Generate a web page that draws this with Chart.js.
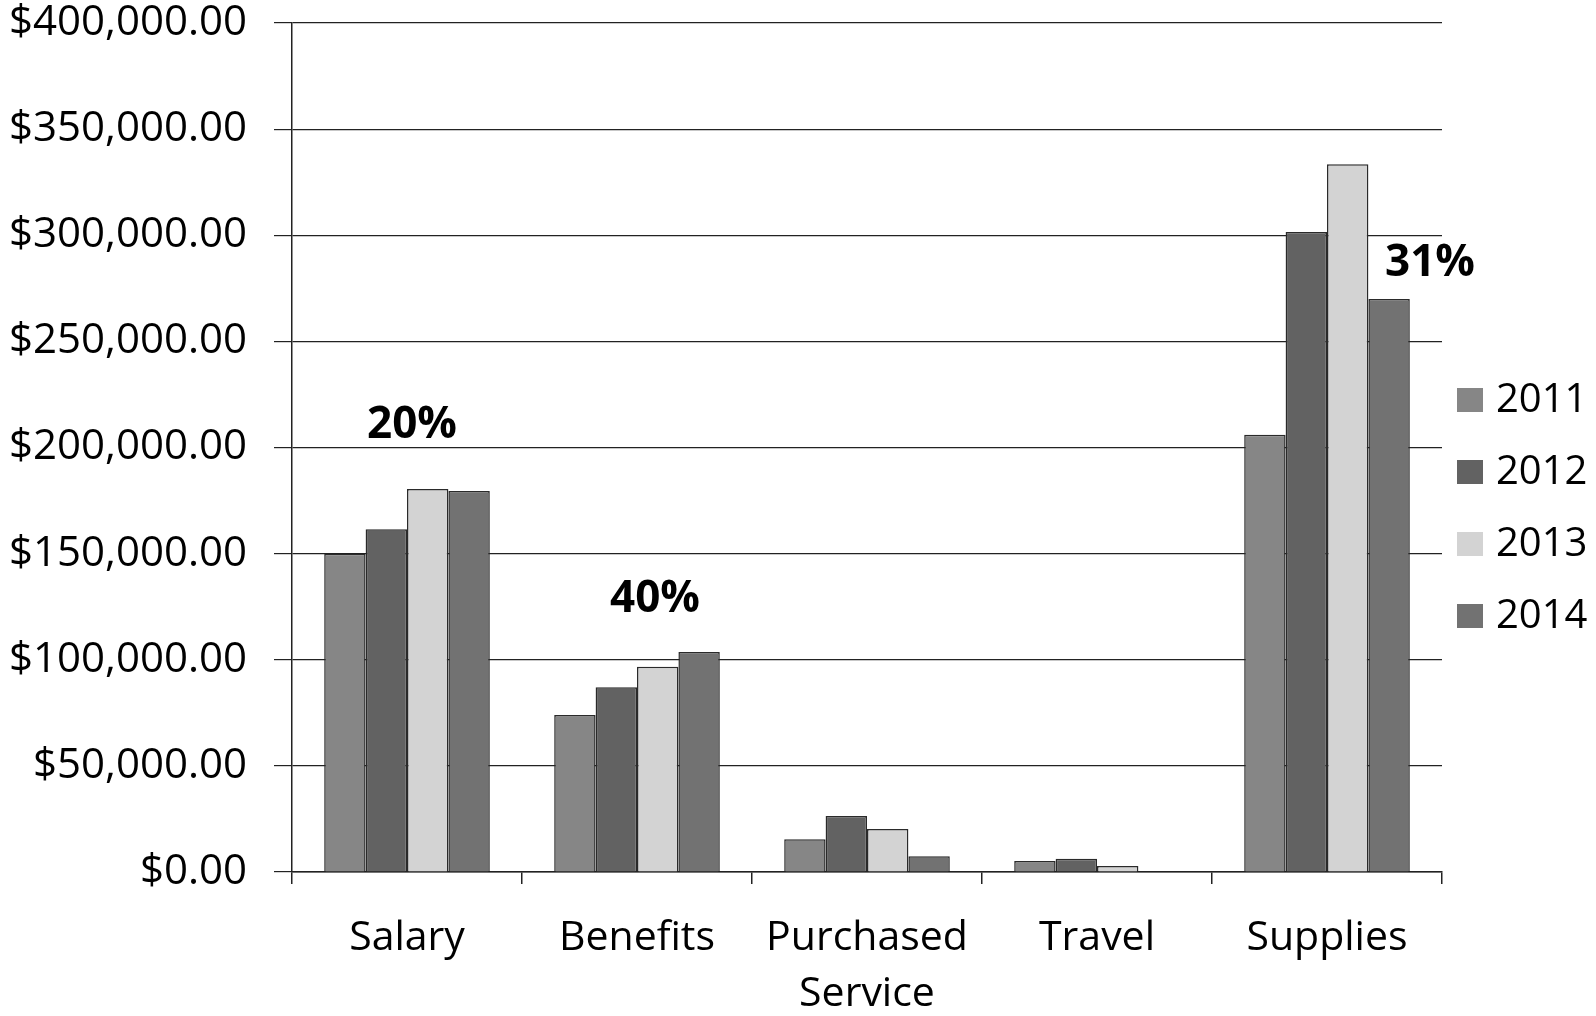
<!DOCTYPE html>
<html>
<head>
<meta charset="utf-8">
<script src="https://cdn.jsdelivr.net/npm/chart.js@4.4.1/dist/chart.umd.min.js"></script>
<style>
html, body { margin: 0; padding: 0; background: #fff; }
#wrap { width: 1596px; height: 1016px; }
</style>
</head>
<body>
<div id="wrap"><canvas id="budgetChart" width="1596" height="1016"></canvas></div>
<script>
// Chart data
var categories = ['Salary', 'Benefits', ['Purchased', 'Service'], 'Travel', 'Supplies'];
var years = ['2011', '2012', '2013', '2014'];
var values2011 = [150000, 74000, 15400, 5200, 206000];
var values2012 = [161500, 87000, 26400, 6300, 301500];
var values2013 = [180500, 96700, 20300, 2800, 333500];
var values2014 = [179500, 103600, 7400, 0, 270000];
var yTicks = [0, 50000, 100000, 150000, 200000, 250000, 300000, 350000, 400000];
var percentLabels = ['20%', '40%', '31%'];

var barColors = ['#868686', '#626262', '#d3d3d3', '#727272'];
var fontFamily = '"Open Sans", "DejaVu Sans", sans-serif';

// where the percent notes sit: category index, height on the y scale, sideways shift
var notes = [
    { text: percentLabels[0], category: 0, value: 210500, dx: 5 },
    { text: percentLabels[1], category: 1, value: 128500, dx: 18 },
    { text: percentLabels[2], category: 4, value: 286500, dx: 103 }
];

var seriesValues = [values2011, values2012, values2013, values2014];
var datasets = years.map(function (y, i) {
    return {
        label: y,
        data: seriesValues[i],
        backgroundColor: barColors[i],
        borderColor: '#2a2a2a',
        borderWidth: 1.5,
        barPercentage: 1,
        categoryPercentage: 0.72
    };
});

function money(v) {
    return '$' + v.toLocaleString('en-US', { minimumFractionDigits: 2, maximumFractionDigits: 2 });
}

// Percent notes drawn over the bars
var notesPlugin = {
    id: 'notes',
    afterDatasetsDraw: function (chart) {
        var ctx = chart.ctx;
        var xs = chart.scales.x, ys = chart.scales.y;
        ctx.save();
        ctx.fillStyle = '#000';
        ctx.font = 'bold 44px ' + fontFamily;
        ctx.textAlign = 'center';
        ctx.textBaseline = 'middle';
        notes.forEach(function (n) {
            ctx.fillText(n.text, xs.getPixelForValue(n.category) + n.dx, ys.getPixelForValue(n.value));
        });
        ctx.restore();
    }
};

// Legend on the right, built from the datasets
var sideLegend = {
    id: 'sideLegend',
    afterDraw: function (chart) {
        var ctx = chart.ctx;
        ctx.save();
        ctx.font = '40px ' + fontFamily;
        ctx.textAlign = 'left';
        ctx.textBaseline = 'middle';
        chart.data.datasets.forEach(function (ds, i) {
            var cy = 400 + i * 72;
            ctx.fillStyle = ds.backgroundColor;
            ctx.fillRect(1457, cy - 12, 26, 24);
            ctx.fillStyle = '#000';
            ctx.fillText(ds.label, 1496, cy + 1);
        });
        ctx.restore();
    }
};

var bc = document.getElementById('budgetChart').getContext('2d');
var budgetChart = new Chart(bc, {
    type: 'bar',
    data: { labels: categories, datasets: datasets },
    plugins: [notesPlugin, sideLegend],
    options: {
        responsive: false,
        animation: false,
        devicePixelRatio: 1,
        layout: { padding: { top: 23, right: 154, left: 0, bottom: 0 } },
        plugins: {
            legend: { display: false },
            tooltip: { enabled: false }
        },
        scales: {
            x: {
                grid: {
                    display: true,
                    offset: true,
                    drawOnChartArea: false,
                    drawTicks: true,
                    tickLength: 12,
                    color: '#222',
                    lineWidth: 1.5
                },
                border: { display: true, color: '#222', width: 1.5 },
                ticks: {
                    color: '#000',
                    padding: 26,
                    maxRotation: 0,
                    autoSkip: false,
                    font: { family: fontFamily, size: 41, lineHeight: 1.37 }
                },
                afterFit: function (scale) { scale.height = 144; }
            },
            y: {
                min: 0,
                max: 400000,
                afterBuildTicks: function (scale) {
                    scale.ticks = yTicks.map(function (v) { return { value: v }; });
                },
                grid: {
                    color: '#222',
                    lineWidth: 1.2,
                    drawTicks: true,
                    tickLength: 18
                },
                border: { display: true, color: '#222', width: 1.5 },
                ticks: {
                    color: '#000',
                    padding: 27,
                    font: { family: fontFamily, size: 42, lineHeight: 1.1 },
                    callback: function (v) { return money(v); }
                },
                afterFit: function (scale) {
                    scale.width = 292;
                    scale.paddingTop = 0;
                    scale.paddingBottom = 0;
                }
            }
        }
    }
});
</script>
</body>
</html>
